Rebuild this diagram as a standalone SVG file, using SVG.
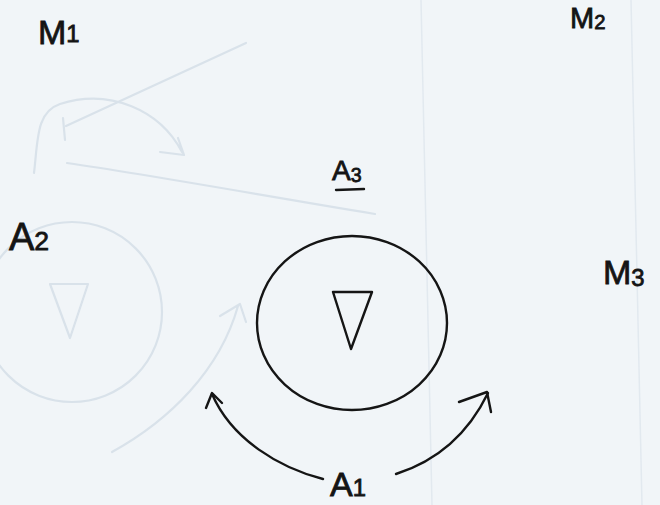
<svg xmlns="http://www.w3.org/2000/svg" width="660" height="505" viewBox="0 0 660 505">
<defs>
<style>
.ink{fill:none;stroke:#151515;stroke-width:2.4;stroke-linecap:round;stroke-linejoin:round}
.ghost{fill:none;stroke:#d9e2ea;stroke-width:2.2;stroke-linecap:round;stroke-linejoin:round}
.rule{fill:none;stroke:#e2e9ef;stroke-width:1.5}
.lbl{font-family:"Liberation Sans","DejaVu Sans",sans-serif;fill:#141414;stroke:#141414;stroke-width:0.8}
.sub{font-size:0.7em}
</style>
</defs>
<rect x="0" y="0" width="660" height="505" fill="#f1f5f8"/>
<g id="paper">
<path class="rule" d="M421 0 L432 505"/>
<path class="rule" d="M631 0 L642 505"/>
<path class="ghost" d="M246 43 L66 126"/>
<path class="ghost" d="M63 118 L65 140"/>
<path class="ghost" d="M34 173 C38 140 36 112 60 104 C110 88 160 110 182 152 M160 152 L184 155 L178 138"/>
<path class="ghost" d="M67 163 C150 175 260 195 375 214"/>
<circle class="ghost" cx="72" cy="312" r="90"/>
<path class="ghost" d="M50 284 L88 284 L70 338 Z"/>
<path class="ghost" d="M112 452 C170 420 220 370 238 306 M220 316 L240 304 L246 322"/>
</g>
<g id="node-circle">
<ellipse class="ink" cx="352" cy="323" rx="95" ry="87"/>
<path class="ink" d="M333 292 L372 292 L351 349 Z"/>
</g>
<g id="label-M1"><text class="lbl" x="38" y="44" font-size="34">M<tspan class="sub" dy="-2">1</tspan></text></g>
<g id="label-M2"><text class="lbl" x="570" y="28" font-size="29">M<tspan class="sub" dy="1">2</tspan></text></g>
<g id="label-M3"><text class="lbl" x="603" y="284" font-size="34">M<tspan class="sub" dy="2">3</tspan></text></g>
<g id="label-A2"><text class="lbl" x="9" y="250" font-size="38">A<tspan class="sub" dy="0">2</tspan></text></g>
<g id="label-A3"><text class="lbl" x="332" y="180" font-size="28">A<tspan class="sub" dy="2">3</tspan></text>
<path class="ink" d="M336 190 L364 189" stroke-width="2"/></g>
<g id="label-A1"><text class="lbl" x="330" y="496" font-size="34">A<tspan class="sub" dy="0">1</tspan></text></g>
<g id="connectors">
<path class="ink" d="M323 479 C280 468 232 440 212 394"/>
<path class="ink" d="M206 408 L212 393 L222 403"/>
<path class="ink" d="M396 474 C440 460 470 430 488 393"/>
<path class="ink" d="M459 402 L487 392 L491 412"/>
</g>
</svg>
